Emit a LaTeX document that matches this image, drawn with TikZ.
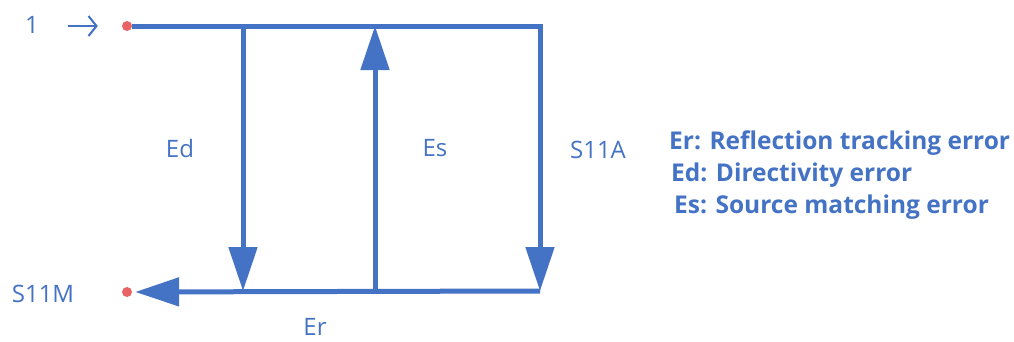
\documentclass[tikz,border=0pt]{standalone}
\usepackage{fontspec}
\setmainfont{Open Sans}
\usetikzlibrary{arrows.meta}
\definecolor{lblue}{HTML}{4472C4}
\definecolor{dotred}{HTML}{E86464}
\tikzset{
  wire/.style={draw=lblue, line width=5pt},
  bigarrow/.style={wire, -{Triangle[length=44pt,width=28pt]}},
  dotnode/.style={circle, fill=dotred, inner sep=0pt, minimum size=10pt},
  lbl/.style={text=lblue, font=\fontsize{24}{28}\selectfont, inner sep=0pt},
  leg/.style={text=lblue, font=\fontsize{24.5}{28}\selectfont\bfseries, inner sep=0pt, anchor=west},
}
\begin{document}
\begin{tikzpicture}[x=1pt,y=-1pt]
\useasboundingbox (0,0) rectangle (1014,341);
\node[dotnode] (p1) at (127,26) {};
\node[dotnode] (p2) at (127,292) {};
\coordinate (tr) at (540,26);
\coordinate (br) at (540,291);
\coordinate (edT) at (243,26);
\coordinate (edB) at (243,291);
\coordinate (esT) at (375,26);
\coordinate (esB) at (375,291);
\coordinate (inarr) at (68,26);
\draw[wire, line join=miter] (p1) -- (tr) -- (540,120);
\draw[bigarrow] (540,110) -- (br);
\draw[bigarrow, shorten >=3pt] (br) -- (p2);
\draw[bigarrow] (edT) -- (edB);
\draw[bigarrow] (esB) -- (esT);
\draw[draw=lblue, line width=2pt, -{Straight Barb[length=8pt,width=20pt]}, shorten >=24pt] (inarr) -- (p1);
\node[lbl] (one) at (32,25) {1};
\node[lbl] (s11m) at (43,294) {S11M};
\node[lbl] (ed) at (180,148) {Ed};
\node[lbl] (es) at (435,148) {Es};
\node[lbl] (s11a) at (598,150) {S11A};
\node[lbl] (er) at (315,327) {Er};
\node[leg] (l1) at (669,143) {Er: Reflection tracking error};
\node[leg] (l2) at (671,175) {Ed: Directivity error};
\node[leg] (l3) at (674,207) {Es: Source matching error};
\end{tikzpicture}
\end{document}
